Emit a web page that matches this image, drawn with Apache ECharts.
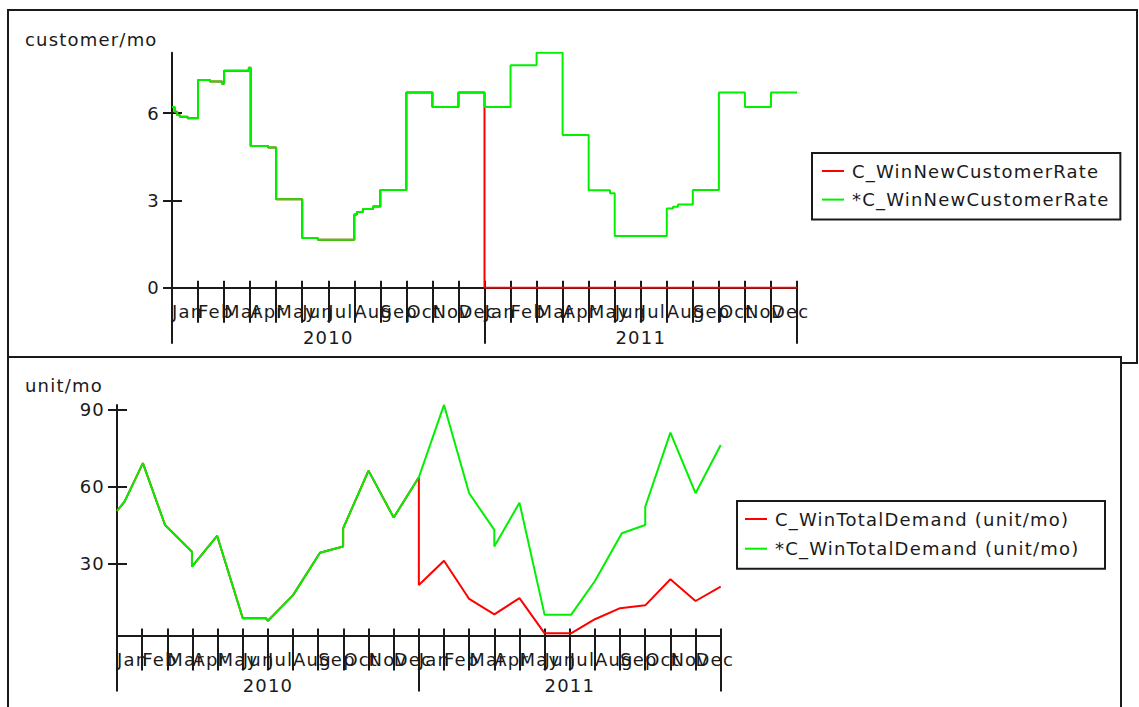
<!DOCTYPE html>
<html>
<head>
<meta charset="utf-8">
<script src="https://cdn.jsdelivr.net/npm/echarts@6/dist/echarts.min.js"></script>
<style>
  html, body { margin: 0; padding: 0; background: #fff; }
  #chart { width: 1139px; height: 707px; }
  #chart text { letter-spacing: 1.2px; }
</style>
</head>
<body>
<div id="chart"></div>
<script>
// Time axis: months since Jan 2010 (0 .. 24)
const monthNames = ['Jan', 'Feb', 'Mar', 'Apr', 'May', 'Jun', 'Jul', 'Aug', 'Sep', 'Oct', 'Nov', 'Dec'];
const yearNames = ['2010', '2011'];
const monthTicks = [0, 1, 2, 3, 4, 5, 6, 7, 8, 9, 10, 11, 12, 13, 14, 15, 16, 17, 18, 19, 20, 21, 22, 23, 24];
// Month labels are split over two axes (even / odd months) so neighbouring
// labels may overlap without the axis dropping any of them.
const monthLabelEven = [0, 2, 4, 6, 8, 10, 12, 14, 16, 18, 20, 22];
const monthLabelOdd = [1, 3, 5, 7, 9, 11, 13, 15, 17, 19, 21, 23];
const yearTicks = [0, 12, 24];
const yearLabelAt = [6, 18];

// New customer rate (customer/mo); each value holds until the next time point
const custTicks = [0, 3, 6];
const custDataMonths = [0, 0.1, 0.2, 0.3, 0.6, 1.0, 1.46, 1.92, 2.0, 2.95, 3.02, 3.69, 4.0, 5.0, 5.6, 7.0, 7.1, 7.33, 7.72, 8.0, 9.0, 10.0, 11.0, 12.0, 13.0, 14.0, 15.0, 16.0, 16.82, 17.0, 19.0, 19.24, 19.43, 20.0, 21.0, 22.0, 23.0, 24.0];
const custData = [6.21, 6.05, 5.94, 5.88, 5.83, 7.14, 7.09, 7.01, 7.46, 7.56, 4.87, 4.82, 3.04, 1.71, 1.65, 2.52, 2.60, 2.71, 2.79, 3.36, 6.71, 6.21, 6.71, 6.21, 7.65, 8.08, 5.25, 3.35, 3.25, 1.78, 2.72, 2.78, 2.86, 3.36, 6.71, 6.21, 6.71, 6.71];
const custSimMonths = [0, 0.1, 0.2, 0.3, 0.6, 1.0, 1.46, 1.92, 2.0, 2.95, 3.02, 3.69, 4.0, 5.0, 5.6, 7.0, 7.1, 7.33, 7.72, 8.0, 9.0, 10.0, 11.0, 12.0, 24.0];
const custSim = [6.21, 6.05, 5.94, 5.88, 5.83, 7.14, 7.09, 7.01, 7.46, 7.56, 4.87, 4.82, 3.04, 1.71, 1.65, 2.52, 2.60, 2.71, 2.79, 3.36, 6.71, 6.21, 6.71, 0, 0];

// Total demand (unit/mo)
const demandTicks = [30, 60, 90];
const demandDataMonths = [0, 0.3, 1.03, 1.91, 2.98, 2.98, 3.98, 5.0, 5.92, 6.0, 7.0, 8.07, 8.99, 8.99, 10.0, 11.0, 12.0, 13.0, 14.0, 15.0, 15.0, 16.0, 17.0, 18.05, 19.0, 20.07, 21.0, 21.0, 22.0, 23.0, 24.0];
const demandData = [50.4, 54.0, 69.0, 44.9, 34.5, 28.7, 40.7, 8.6, 8.6, 7.6, 17.6, 34.1, 36.5, 43.6, 66.1, 47.8, 63.5, 91.7, 57.3, 43.0, 36.5, 53.6, 9.9, 9.9, 23.1, 41.7, 44.9, 52.0, 80.9, 57.3, 76.1];
const demandSimMonths = [0, 0.3, 1.03, 1.91, 2.98, 2.98, 3.98, 5.0, 5.92, 6.0, 7.0, 8.07, 8.99, 8.99, 10.0, 11.0, 12.0, 12.0, 13.0, 14.0, 15.0, 16.0, 17.0, 18.05, 19.0, 20.0, 21.0, 22.0, 23.0, 24.0];
const demandSim = [50.4, 54.0, 69.0, 44.9, 34.5, 28.7, 40.7, 8.6, 8.6, 7.6, 17.6, 34.1, 36.5, 43.6, 66.1, 47.8, 63.5, 21.5, 31.0, 16.1, 10.1, 16.4, 2.7, 2.7, 8.2, 12.5, 13.6, 23.8, 15.3, 20.9];

const FONT = 'DejaVu Sans';
const INK = '#1a1a1a';
const RED = '#ff0000';
const GREEN = '#00f000';

function pairs(xs, ys) { return xs.map((x, i) => [x, ys[i]]); }

function monthLabel(values) {
  return { show: true, customValues: values, align: 'left', margin: 15, color: INK, hideOverlap: false,
    fontFamily: FONT, fontSize: 18, formatter: v => monthNames[Math.round(v) % 12] };
}

// Three stacked bottom axes per panel: short month ticks above the line,
// long month ticks below it, and longer year ticks with year labels.
function timeAxes(gridIndex) {
  const base = { gridIndex, type: 'value', min: 0, max: 24, position: 'bottom', offset: 0, splitLine: { show: false } };
  return [
    Object.assign({}, base, {
      axisLine: { show: true, lineStyle: { color: INK, width: 2 } },
      axisTick: { show: true, inside: true, length: 7, customValues: monthTicks, lineStyle: { color: INK, width: 2 } },
      axisLabel: monthLabel(monthLabelEven)
    }),
    Object.assign({}, base, {
      axisLine: { show: false },
      axisTick: { show: true, inside: false, length: 35, customValues: monthTicks, lineStyle: { color: INK, width: 2 } },
      axisLabel: monthLabel(monthLabelOdd)
    }),
    Object.assign({}, base, {
      axisLine: { show: false },
      axisTick: { show: true, inside: false, length: 56, customValues: yearTicks, lineStyle: { color: INK, width: 2 } },
      axisLabel: { show: true, customValues: yearLabelAt, margin: 41, color: INK,
        fontFamily: FONT, fontSize: 18, formatter: v => yearNames[Math.floor(v / 12)] }
    })
  ];
}

// Two overlaid value axes so the ticks cross the axis line.
function valueAxes(gridIndex, min, max, ticks) {
  const base = { gridIndex, type: 'value', min, max, position: 'left', offset: 0, splitLine: { show: false } };
  return [
    Object.assign({}, base, {
      axisLine: { show: true, lineStyle: { color: INK, width: 2 } },
      axisTick: { show: true, inside: false, length: 9, customValues: ticks, lineStyle: { color: INK, width: 2 } },
      axisLabel: { show: true, customValues: ticks, margin: 12, color: INK, fontFamily: FONT, fontSize: 18 }
    }),
    Object.assign({}, base, {
      axisLine: { show: false },
      axisTick: { show: true, inside: true, length: 10, customValues: ticks, lineStyle: { color: INK, width: 2 } },
      axisLabel: { show: false }
    })
  ];
}

function legendBox(names, left, top, padding, gap) {
  return {
    data: names, orient: 'vertical', left, top, padding, itemGap: gap,
    icon: 'rect', itemWidth: 22, itemHeight: 2, selectedMode: false,
    borderColor: INK, borderWidth: 2, backgroundColor: '#fff',
    textStyle: { fontFamily: FONT, fontSize: 18, color: INK, padding: [0, 0, 0, 3] }
  };
}

function line(name, xAxisIndex, yAxisIndex, data, color, step) {
  return {
    name, type: 'line', xAxisIndex, yAxisIndex, data, step: step || false,
    symbol: 'none', showSymbol: false, color,
    lineStyle: { color, width: 2 }, emphasis: { disabled: true }
  };
}

const chart = echarts.init(document.getElementById('chart'), null, { renderer: 'svg' });
chart.setOption({
  animation: false,
  backgroundColor: '#fff',
  textStyle: { fontFamily: FONT },
  graphic: [
    { type: 'rect', z: -10, shape: { x: 8, y: 10, width: 1129, height: 353 },
      style: { fill: '#fff', stroke: INK, lineWidth: 2 } },
    { type: 'rect', z: -9, shape: { x: 8, y: 357, width: 1113, height: 400 },
      style: { fill: '#fff', stroke: INK, lineWidth: 2 } },
    { type: 'text', z: -8, x: 25, y: 39.5,
      style: { text: 'customer/mo', fill: INK, font: '18px "DejaVu Sans"', verticalAlign: 'middle' } },
    { type: 'text', z: -8, x: 25, y: 385.5,
      style: { text: 'unit/mo', fill: INK, font: '18px "DejaVu Sans"', verticalAlign: 'middle' } }
  ],
  grid: [
    { left: 172, top: 52.7, width: 625, height: 235, outerBoundsMode: 'none', containLabel: false },
    { left: 117, top: 404.9, width: 603.7, height: 230.5, outerBoundsMode: 'none', containLabel: false }
  ],
  xAxis: timeAxes(0).concat(timeAxes(1)),
  yAxis: valueAxes(0, 0, 8.08, custTicks).concat(valueAxes(1, 1.9, 91.7, demandTicks)),
  legend: [
    legendBox(['C_WinNewCustomerRate', '*C_WinNewCustomerRate'], 812, 153, [9, 36, 11, 10], 10.6),
    legendBox(['C_WinTotalDemand (unit/mo)', '*C_WinTotalDemand (unit/mo)'], 737, 501, [9, 58, 11, 8], 11.7)
  ],
  series: [
    line('C_WinNewCustomerRate', 0, 0, pairs(custSimMonths, custSim), RED, 'end'),
    line('*C_WinNewCustomerRate', 0, 0, pairs(custDataMonths, custData), GREEN, 'end'),
    line('C_WinTotalDemand (unit/mo)', 3, 2, pairs(demandSimMonths, demandSim), RED),
    line('*C_WinTotalDemand (unit/mo)', 3, 2, pairs(demandDataMonths, demandData), GREEN)
  ]
});
</script>
</body>
</html>
